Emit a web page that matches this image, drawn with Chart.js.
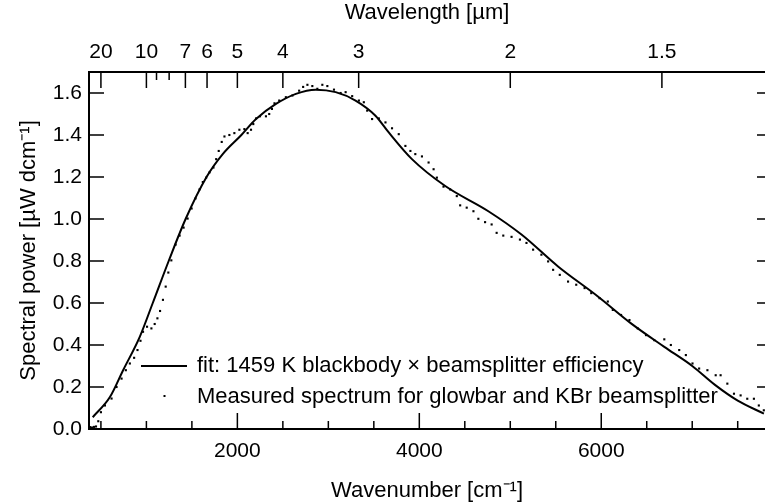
<!DOCTYPE html>
<html>
<head>
<meta charset="utf-8">
<script src="https://cdn.jsdelivr.net/npm/chart.js@4.4.0/dist/chart.umd.min.js"></script>
<style>
  html, body { margin: 0; padding: 0; background: #fff; }
  #wrap { width: 769px; height: 504px; }
</style>
</head>
<body>
<div id="wrap"><canvas id="spectre"></canvas></div>
<script>
// Spectre mesuré : nombre d'onde (cm-1) et puissance (µW dcm-1)
const measWn = [380, 402, 424, 446, 471, 500, 544, 617, 672, 727,
  774, 818, 865, 902, 935, 963, 1007, 1055, 1091, 1121,
  1150, 1182, 1212, 1241, 1274, 1321, 1365, 1409, 1453, 1497,
  1540, 1584, 1620, 1657, 1694, 1737, 1767, 1795, 1828, 1858,
  1912, 1967, 2022, 2077, 2113, 2150, 2175, 2205, 2249, 2314,
  2350, 2380, 2408, 2460, 2533, 2605, 2679, 2723, 2770, 2824,
  2879, 2934, 2989, 3062, 3135, 3190, 3262, 3336, 3390, 3427,
  3481, 3555, 3628, 3700, 3774, 3847, 3902, 3956, 4029, 4102,
  4157, 4193, 4266, 4339, 4412, 4449, 4521, 4595, 4649, 4723,
  4795, 4850, 4923, 5014, 5106, 5178, 5251, 5342, 5416, 5471,
  5544, 5635, 5725, 5817, 5890, 5981, 6072, 6127, 6218, 6310,
  6401, 6492, 6583, 6693, 6765, 6857, 6930, 7003, 7076, 7167,
  7258, 7312, 7386, 7459, 7532, 7605, 7678, 7732, 7787];
const measPower = [0.009, 0.007, 0.010, 0.012, 0.037, 0.080, 0.112, 0.145, 0.200, 0.240,
  0.280, 0.312, 0.339, 0.376, 0.420, 0.463, 0.487, 0.479, 0.500, 0.527,
  0.562, 0.615, 0.678, 0.745, 0.803, 0.878, 0.921, 0.959, 1.002, 1.050,
  1.098, 1.141, 1.176, 1.197, 1.222, 1.245, 1.285, 1.324, 1.367, 1.393,
  1.400, 1.409, 1.425, 1.428, 1.409, 1.425, 1.452, 1.479, 1.489, 1.489,
  1.500, 1.524, 1.551, 1.564, 1.580, 1.588, 1.611, 1.629, 1.639, 1.633,
  1.620, 1.639, 1.633, 1.616, 1.600, 1.604, 1.585, 1.564, 1.556, 1.516,
  1.476, 1.479, 1.460, 1.432, 1.404, 1.348, 1.324, 1.309, 1.298, 1.269,
  1.237, 1.197, 1.154, 1.141, 1.109, 1.065, 1.054, 1.037, 1.001, 0.985,
  0.974, 0.934, 0.921, 0.915, 0.902, 0.886, 0.854, 0.830, 0.798, 0.758,
  0.734, 0.702, 0.687, 0.671, 0.647, 0.623, 0.607, 0.567, 0.543, 0.519,
  0.479, 0.447, 0.423, 0.427, 0.400, 0.376, 0.352, 0.312, 0.288, 0.280,
  0.256, 0.256, 0.216, 0.168, 0.160, 0.144, 0.144, 0.112, 0.089];

// Ajustement : corps noir 1459 K x efficacité de la séparatrice
const fitWn = [410, 599, 744, 927, 1070, 1245, 1431, 1661, 1839, 2044,
  2205, 2424, 2643, 2862, 3081, 3299, 3518, 3664, 3919, 4285,
  4759, 5123, 5525, 5963, 6327, 6693, 7000, 7250, 7500, 7788];
const fitPower = [0.056, 0.152, 0.280, 0.439, 0.600, 0.800, 1.000, 1.200, 1.309, 1.400,
  1.476, 1.548, 1.596, 1.616, 1.604, 1.564, 1.492, 1.412, 1.285, 1.157,
  1.037, 0.926, 0.774, 0.631, 0.503, 0.391, 0.300, 0.210, 0.135, 0.073];

// Graduations des axes
const wnTicks = [2000, 4000, 6000];
const wnMinorTicks = [500, 1000, 1500, 2500, 3000, 3500, 4500, 5000, 5500, 6500, 7000, 7500];
const powerTicks = [0, 0.2, 0.4, 0.6, 0.8, 1.0, 1.2, 1.4, 1.6];
const wlTicks = [20, 10, 7, 6, 5, 4, 3, 2, 1.5];
const wlMinorTicks = [9, 8];

const legendLabels = [
  'fit: 1459 K blackbody \u00d7 beamsplitter efficiency',
  'Measured spectrum for glowbar and KBr beamsplitter'
];

const WN_MIN = 369, WN_MAX = 7800;
const FONT = '"Liberation Sans", Arial, Helvetica, sans-serif';

// cadre, graduations intérieures et légende
const cadre = {
  id: 'cadre',
  afterDatasetsDraw(chart) {
    const { ctx, chartArea: a, scales } = chart;
    const x = scales.x, y = scales.y;
    ctx.save();
    ctx.strokeStyle = '#000';
    ctx.lineWidth = 2;
    ctx.beginPath();
    ctx.moveTo(a.right, a.top);
    ctx.lineTo(a.left, a.top);
    ctx.lineTo(a.left, a.bottom);
    ctx.lineTo(a.right, a.bottom);
    ctx.stroke();

    ctx.lineWidth = 1.5;
    ctx.beginPath();
    wnTicks.forEach(v => {
      const px = x.getPixelForValue(v);
      ctx.moveTo(px, a.bottom); ctx.lineTo(px, a.bottom - 16);
    });
    wnMinorTicks.forEach(v => {
      const px = x.getPixelForValue(v);
      ctx.moveTo(px, a.bottom); ctx.lineTo(px, a.bottom - 8);
    });
    wlTicks.forEach(l => {
      const px = x.getPixelForValue(10000 / l);
      ctx.moveTo(px, a.top); ctx.lineTo(px, a.top + 16);
    });
    wlMinorTicks.forEach(l => {
      const px = x.getPixelForValue(10000 / l);
      ctx.moveTo(px, a.top); ctx.lineTo(px, a.top + 8);
    });
    powerTicks.forEach(v => {
      if (v === 0) return;
      const py = y.getPixelForValue(v);
      ctx.moveTo(a.left, py); ctx.lineTo(a.left + 15, py);
      ctx.moveTo(a.right, py); ctx.lineTo(a.right - 8, py);
    });
    ctx.stroke();

    // légende
    ctx.lineWidth = 2;
    ctx.beginPath();
    ctx.moveTo(141, 366); ctx.lineTo(187, 366);
    ctx.stroke();
    ctx.fillStyle = '#000';
    ctx.fillRect(163.5, 395, 2, 2);
    ctx.font = '22px ' + FONT;
    ctx.textBaseline = 'middle';
    ctx.textAlign = 'left';
    ctx.fillText(legendLabels[0], 197, 366);
    ctx.fillText(legendLabels[1], 197, 397);
    ctx.restore();
  }
};

const measData = measWn.map((w, i) => ({ x: w, y: measPower[i] }));
const fitData = fitWn.map((w, i) => ({ x: w, y: fitPower[i] }));

const tickFont = { family: FONT, size: 21 };
const titleFont = { family: FONT, size: 22 };

new Chart(document.getElementById('spectre'), {
  type: 'scatter',
  data: {
    datasets: [
      {
        label: legendLabels[0],
        data: fitData,
        showLine: true,
        borderColor: '#000',
        borderWidth: 2,
        pointRadius: 0,
        cubicInterpolationMode: 'monotone'
      },
      {
        label: legendLabels[1],
        data: measData,
        showLine: false,
        pointStyle: 'rect',
        pointRadius: 1.5,
        pointBackgroundColor: '#000',
        pointBorderWidth: 0
      }
    ]
  },
  options: {
    responsive: true,
    maintainAspectRatio: false,
    animation: false,
    layout: { padding: 0 },
    plugins: { legend: { display: false }, tooltip: { enabled: false } },
    scales: {
      x: {
        type: 'linear', position: 'bottom', min: WN_MIN, max: WN_MAX,
        grid: { display: false, drawTicks: false },
        border: { display: false },
        afterBuildTicks: s => { s.ticks = wnTicks.map(v => ({ value: v })); },
        afterFit: s => { s.height = 75; },
        ticks: { color: '#000', font: tickFont, padding: 10, autoSkip: false, maxRotation: 0, callback: v => String(v) },
        title: { display: true, text: 'Wavenumber [cm\u207B\u00B9]', color: '#000', font: titleFont, padding: { top: 3, bottom: 0 } }
      },
      x2: {
        type: 'linear', position: 'top', min: WN_MIN, max: WN_MAX,
        grid: { display: false, drawTicks: false },
        border: { display: false },
        afterBuildTicks: s => { s.ticks = wlTicks.map(l => ({ value: 10000 / l })); },
        afterFit: s => { s.height = 72; },
        ticks: {
          color: '#000', font: tickFont, padding: 7, autoSkip: false, maxRotation: 0,
          callback: v => String(+(10000 / v).toFixed(1))
        },
        title: { display: true, text: 'Wavelength [\u00B5m]', color: '#000', font: titleFont, padding: { top: 0, bottom: 0 } }
      },
      y: {
        type: 'linear', position: 'left', min: 0, max: 1.7,
        grid: { display: false, drawTicks: false },
        border: { display: false },
        afterBuildTicks: s => { s.ticks = powerTicks.map(v => ({ value: v })); },
        afterFit: s => { s.width = 89; },
        ticks: { color: '#000', font: tickFont, padding: 7, callback: v => v.toFixed(1) },
        title: { display: true, text: 'Spectral power [\u00B5W dcm\u207B\u00B9]', color: '#000', font: titleFont, padding: { top: 16, bottom: 0 } }
      }
    }
  },
  plugins: [cadre]
});
</script>
</body>
</html>
